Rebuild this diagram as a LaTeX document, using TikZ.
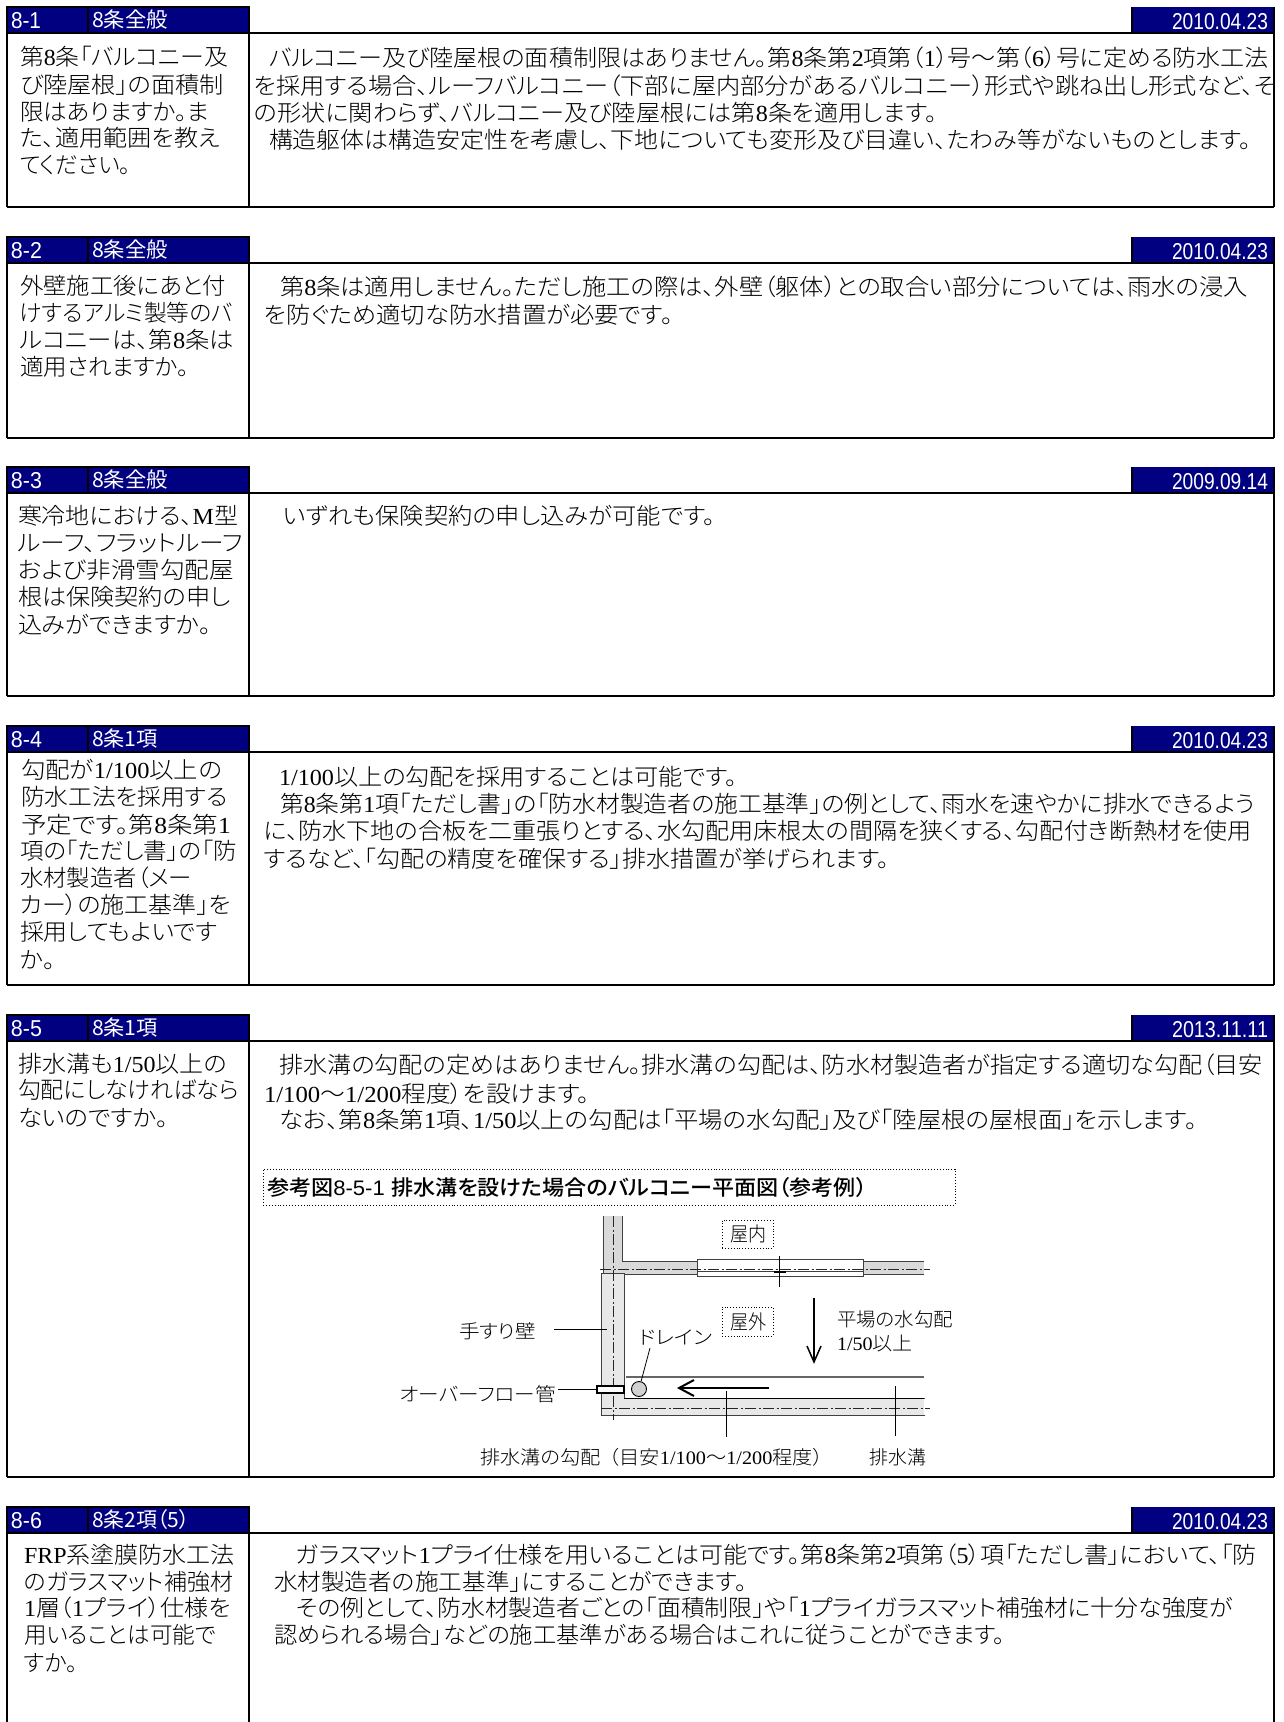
\documentclass[tikz,border=0pt]{standalone}
\usepackage{fontspec}
\usepackage{graphicx}
\setmainfont{Noto Sans CJK JP Light}[RawFeature=+palt]
\newfontfamily\serf{Liberation Serif}
\newfontfamily\arl{Liberation Sans}
\newfontfamily\midcjk{Noto Sans CJK JP Medium}[RawFeature=+palt]
\newfontfamily\regcjk{Noto Sans CJK JP}[RawFeature=+palt]
\newcommand{\ltn}[1]{{\serf #1}}
\definecolor{navyhead}{HTML}{000080}
\definecolor{inktext}{HTML}{000000}
\definecolor{wallA}{HTML}{D9D9D9}
\definecolor{wallB}{HTML}{E8E8E8}
\tikzset{
  x=1pt,y=-1pt,
  frameline/.style={draw=black,line width=1.8pt},
  headfill/.style={fill=navyhead,draw=black,line width=1.2pt},
  txtnode/.style={anchor=base west,inner sep=0pt,outer sep=0pt,text=inktext},
  headtxt/.style={anchor=base west,inner sep=0pt,outer sep=0pt,text=white},
  dotbox/.style={draw=black,dotted,line width=0.9pt,inner sep=0pt},
  wallline/.style={draw=black!75,line width=0.9pt},
  chain/.style={draw=black!85,line width=0.7pt,dash pattern=on 11pt off 2.5pt on 2pt off 2.5pt},
  leader/.style={draw=black,line width=0.8pt},
}
% \fitw{size}{width}{text}
\newcommand{\fitw}[3]{%
  \sbox0{\fontsize{#1}{#1}\selectfont #3}%
  \edef\curwd{\the\wd0}%
  \pgfmathsetmacro\fitr{#2/\curwd}%
  \scalebox{\fitr}[1]{\usebox0}}
% \txt[size]{name}{x}{ycentre}{width}{text}
\newcommand{\txt}[6][23]{%
  \node[txtnode] (#2) at (#3,{#4+0.37*#1}) {\fitw{#1}{#5}{#6}};}
\newcommand{\headt}[6][21]{%
  \node[headtxt] (#2) at (#3,{#4+0.37*#1}) {\fitw{#1}{#5}{#6}};}
% \rowbox{ytop}{yhead}{ybot}
\newcommand{\rowbox}[3]{%
  \fill[navyhead] (7,#1) rectangle (249,#2);
  \fill[navyhead] (1132,#1) rectangle (1274,#2);
  \draw[headfill] (7,#1) rectangle (88,#2);
  \draw[headfill] (88,#1) rectangle (249,#2);
  \draw[frameline] (1132,#1) -- (1132,#2);
  \draw[frameline] (1274,#1) -- (1274,#2);
  \draw[frameline] (7,#2) -- (1274,#2);
  \draw[frameline] (7,#2) -- (7,#3) (249,#2) -- (249,#3) (1274,#2) -- (1274,#3);
}
\begin{document}
\begin{tikzpicture}
\useasboundingbox (0,0) rectangle (1283,1722);
\fill[white] (0,0) rectangle (1283,1722);

% ---------- frames
\rowbox{7}{33}{207}\draw[frameline] (7,207) -- (1274,207);
\rowbox{237}{263}{438}\draw[frameline] (7,438) -- (1274,438);
\rowbox{467}{493}{696}\draw[frameline] (7,696) -- (1274,696);
\rowbox{726}{752}{985}\draw[frameline] (7,985) -- (1274,985);
\rowbox{1015}{1041}{1477}\draw[frameline] (7,1477) -- (1274,1477);
\rowbox{1507}{1533}{1722}

% ---------- headers
\headt[23]{hA}{11}{20}{30}{\arl 8-1}
\headt{hAb}{92}{20}{76}{\regcjk 8条全般}
\headt[23]{hAd}{1172}{21}{96}{\arl 2010.04.23}
\headt[23]{hB}{11}{250}{31}{\arl 8-2}
\headt{hBb}{92}{250}{76}{\regcjk 8条全般}
\headt[23]{hBd}{1172}{251}{96}{\arl 2010.04.23}
\headt[23]{hC}{11}{480}{31}{\arl 8-3}
\headt{hCb}{92}{480}{76}{\regcjk 8条全般}
\headt[23]{hCd}{1172}{481}{96}{\arl 2009.09.14}
\headt[23]{hD}{11}{739}{31}{\arl 8-4}
\headt{hDb}{92}{739}{66}{\regcjk 8条1項}
\headt[23]{hDd}{1172}{740}{96}{\arl 2010.04.23}
\headt[23]{hE}{11}{1028}{31}{\arl 8-5}
\headt{hEb}{92}{1028}{66}{\regcjk 8条1項}
\headt[23]{hEd}{1172}{1029}{96}{\arl 2013.11.11}
\headt[23]{hF}{11}{1520}{31}{\arl 8-6}
\headt{hFb}{92}{1520}{98}{\regcjk 8条2項（5）}
\headt[23]{hFd}{1172}{1521}{96}{\arl 2010.04.23}

% ---------- 8-1
\txt{qAa}{20}{57}{208}{第\ltn{8}条「バルコニー及}
\txt{qAb}{20}{85}{204}{び陸屋根」の面積制}
\txt{qAc}{20}{112}{189}{限はありますか。ま}
\txt{qAd}{20}{138}{200}{た、適用範囲を教え}
\txt{qAe}{20}{165}{111}{てください。}
\txt{aAa}{269}{58}{1000}{バルコニー及び陸屋根の面積制限はありません。第\ltn{8}条第\ltn{2}項第（\ltn{1}）号～第（\ltn{6}）号に定める防水工法}
\txt{aAb}{254}{86}{1022}{を採用する場合、ルーフバルコニー（下部に屋内部分があるバルコニー）形式や跳ね出し形式など、そ}
\txt{aAc}{254}{113}{683}{の形状に関わらず、バルコニー及び陸屋根には第\ltn{8}条を適用します。}
\txt{aAd}{269}{140}{982}{構造躯体は構造安定性を考慮し、下地についても変形及び目違い、たわみ等がないものとします。}

% ---------- 8-2
\txt{qBa}{20}{286}{206}{外壁施工後にあと付}
\txt{qBb}{20}{313}{213}{けするアルミ製等のバ}
\txt{qBc}{20}{340}{214}{ルコニーは、第\ltn{8}条は}
\txt{qBd}{20}{367}{169}{適用されますか。}
\txt{aBa}{280}{287}{968}{第\ltn{8}条は適用しません。ただし施工の際は、外壁（躯体）との取合い部分については、雨水の浸入}
\txt{aBb}{264}{315}{409}{を防ぐため適切な防水措置が必要です。}

% ---------- 8-3
\txt{qCa}{18}{516}{220}{寒冷地における、\ltn{M}型}
\txt{qCb}{18}{543}{225}{ルーフ、フラットルーフ}
\txt{qCc}{18}{570}{216}{および非滑雪勾配屋}
\txt{qCd}{18}{597}{213}{根は保険契約の申し}
\txt{qCe}{18}{625}{193}{込みができますか。}
\txt{aCa}{283}{516}{432}{いずれも保険契約の申し込みが可能です。}

% ---------- 8-4
\txt{qDa}{21}{770}{201}{勾配が\ltn{1/100}以上の}
\txt{qDb}{21}{797}{207}{防水工法を採用する}
\txt{qDc}{21}{825}{210}{予定です。第\ltn{8}条第\ltn{1}}
\txt{qDd}{20}{851}{217}{項の「ただし書」の「防}
\txt{qDe}{20}{878}{172}{水材製造者（メー}
\txt{qDf}{20}{905}{211}{カー）の施工基準」を}
\txt{qDg}{20}{932}{197}{採用してもよいです}
\txt{qDh}{20}{960}{35}{か。}
\txt{aDa}{279}{777}{458}{\ltn{1/100}以上の勾配を採用することは可能です。}
\txt{aDb}{280}{804}{975}{第\ltn{8}条第\ltn{1}項「ただし書」の「防水材製造者の施工基準」の例として、雨水を速やかに排水できるよう}
\txt{aDc}{264}{831}{988}{に、防水下地の合板を二重張りとする、水勾配用床根太の間隔を狭くする、勾配付き断熱材を使用}
\txt{aDd}{264}{859}{625}{するなど、「勾配の精度を確保する」排水措置が挙げられます。}

% ---------- 8-5
\txt{qEa}{18}{1064}{209}{排水溝も\ltn{1/50}以上の}
\txt{qEb}{18}{1090}{221}{勾配にしなければなら}
\txt{qEc}{18}{1118}{150}{ないのですか。}
\txt{aEa}{279}{1065}{984}{排水溝の勾配の定めはありません。排水溝の勾配は、防水材製造者が指定する適切な勾配（目安}
\txt{aEb}{264}{1094}{326}{\ltn{1/100}～\ltn{1/200}程度）を設けます。}
\txt{aEc}{279}{1120}{918}{なお、第\ltn{8}条第\ltn{1}項、\ltn{1/50}以上の勾配は「平場の水勾配」及び「陸屋根の屋根面」を示します。}

% ---------- figure 8-5-1
\node[dotbox,minimum width=692pt,minimum height=36pt] (figtitlebox) at (609,1187) {};
\txt[21]{figtitle}{267}{1188}{600}{\midcjk 参考図\arl 8-5-1 \midcjk 排水溝を設けた場合のバルコニー平面図（参考例）}

% upper walls (indoor side)
\filldraw[fill=wallA,wallline] (603,1216) -- (603,1274) -- (697,1274) -- (697,1261) -- (622,1261) -- (622,1216);
\filldraw[fill=wallA,wallline] (924,1261) -- (863,1261) -- (863,1274) -- (924,1274);
\draw[draw=white,line width=1.5pt] (603,1215) -- (622,1215) (924.6,1262) -- (924.6,1273);
% window
\filldraw[fill=white,wallline] (697,1259) rectangle (863,1276);
\draw[wallline] (697,1271) -- (863,1271);
% parapet and gutter floor
\filldraw[fill=wallB,wallline] (601,1273) -- (624,1273) -- (624,1398) -- (924,1398) -- (924,1415) -- (601,1415) -- cycle;
\draw[draw=white,line width=1.2pt] (924.8,1399) -- (924.8,1414.5);
\draw[draw=black,line width=1pt] (624,1398) -- (924,1398);
\draw[draw=black!60,line width=1.3pt] (626,1377) -- (924,1377);
% centre lines
\draw[chain] (613,1216) -- (613,1420);
\draw[chain] (600,1269) -- (930,1269);
\draw[chain] (601,1408) -- (930,1408);
\draw[draw=black,line width=1.6pt] (774,1272) -- (786,1272);
\draw[leader] (779,1256) -- (779,1287);
% overflow pipe and drain
\filldraw[fill=white,draw=black,line width=1.2pt] (597,1386) rectangle (624,1393) node[midway,inner sep=0pt] (pipe) {};
\node[circle,draw=black,fill=black!18,line width=0.9pt,minimum size=15pt,inner sep=0pt] (drain) at (639,1389) {};
% slope arrows
\coordinate (downA) at (814,1298);
\coordinate (downB) at (814,1362);
\draw[draw=black,line width=1.5pt] (downA) -- (downB);
\draw[draw=black,line width=1.5pt] (807,1346) -- (downB) -- (821,1346);
\coordinate (leftA) at (769,1388);
\coordinate (leftB) at (679,1388);
\draw[draw=black,line width=2pt] (leftA) -- (leftB);
\draw[draw=black,line width=2pt] (694,1380) -- (leftB) -- (694,1396);
% labels
\node[dotbox,minimum width=51pt,minimum height=28pt] (okunaibox) at (747.5,1234) {};
\txt[20]{okunai}{730}{1234}{36}{屋内}
\node[dotbox,minimum width=51pt,minimum height=29pt] (okugaibox) at (747.5,1321.5) {};
\txt[20]{okugai}{730}{1322}{36}{屋外}
\txt[19]{heijo}{837}{1319}{116}{平場の水勾配}
\txt[19]{heijob}{837}{1343}{76}{\ltn{1/50}以上}
\txt[19]{tesuri}{459}{1331}{77}{手すり壁}
\txt[19]{doren}{639}{1337}{73}{ドレイン}
\txt[19]{ofp}{400}{1394}{156}{オーバーフロー管}
\txt[19]{gutslope}{480}{1457}{343}{排水溝の勾配\hspace{8pt}（目安\ltn{1/100}～\ltn{1/200}程度）}
\txt[19]{gut}{869}{1457}{57}{排水溝}
% leaders
\coordinate (tesuriTip) at (607,1329);
\coordinate (tesuriEnd) at (554,1329);
\draw[leader] (tesuriEnd) -- (tesuriTip);
\coordinate (ofpEnd) at (558,1389);
\coordinate (pipeL) at (597,1389);
\draw[leader] (ofpEnd) -- (pipeL);
\coordinate (dorenEnd) at (650,1348);
\draw[leader] (dorenEnd) -- (drain);
\coordinate (slopeTop) at (726,1391);
\coordinate (slopeBot) at (726,1437);
\draw[leader] (slopeTop) -- (slopeBot);
\coordinate (gutTop) at (895,1386);
\coordinate (gutBot) at (895,1436);
\draw[leader] (gutTop) -- (gutBot);

% ---------- 8-6
\txt{qFa}{24}{1555}{211}{\ltn{FRP}系塗膜防水工法}
\txt{qFb}{24}{1582}{209}{のガラスマット補強材}
\txt{qFc}{24}{1608}{207}{\ltn{1}層（\ltn{1}プライ）仕様を}
\txt{qFd}{24}{1635}{192}{用いることは可能で}
\txt{qFe}{24}{1663}{54}{すか。}
\txt{aFa}{296}{1555}{961}{ガラスマット\ltn{1}プライ仕様を用いることは可能です。第\ltn{8}条第\ltn{2}項第（\ltn{5}）項「ただし書」において、「防}
\txt{aFb}{274}{1582}{473}{水材製造者の施工基準」にすることができます。}
\txt{aFc}{296}{1608}{937}{その例として、防水材製造者ごとの「面積制限」や「\ltn{1}プライガラスマット補強材に十分な強度が}
\txt{aFd}{274}{1635}{731}{認められる場合」などの施工基準がある場合はこれに従うことができます。}
\end{tikzpicture}
\end{document}
